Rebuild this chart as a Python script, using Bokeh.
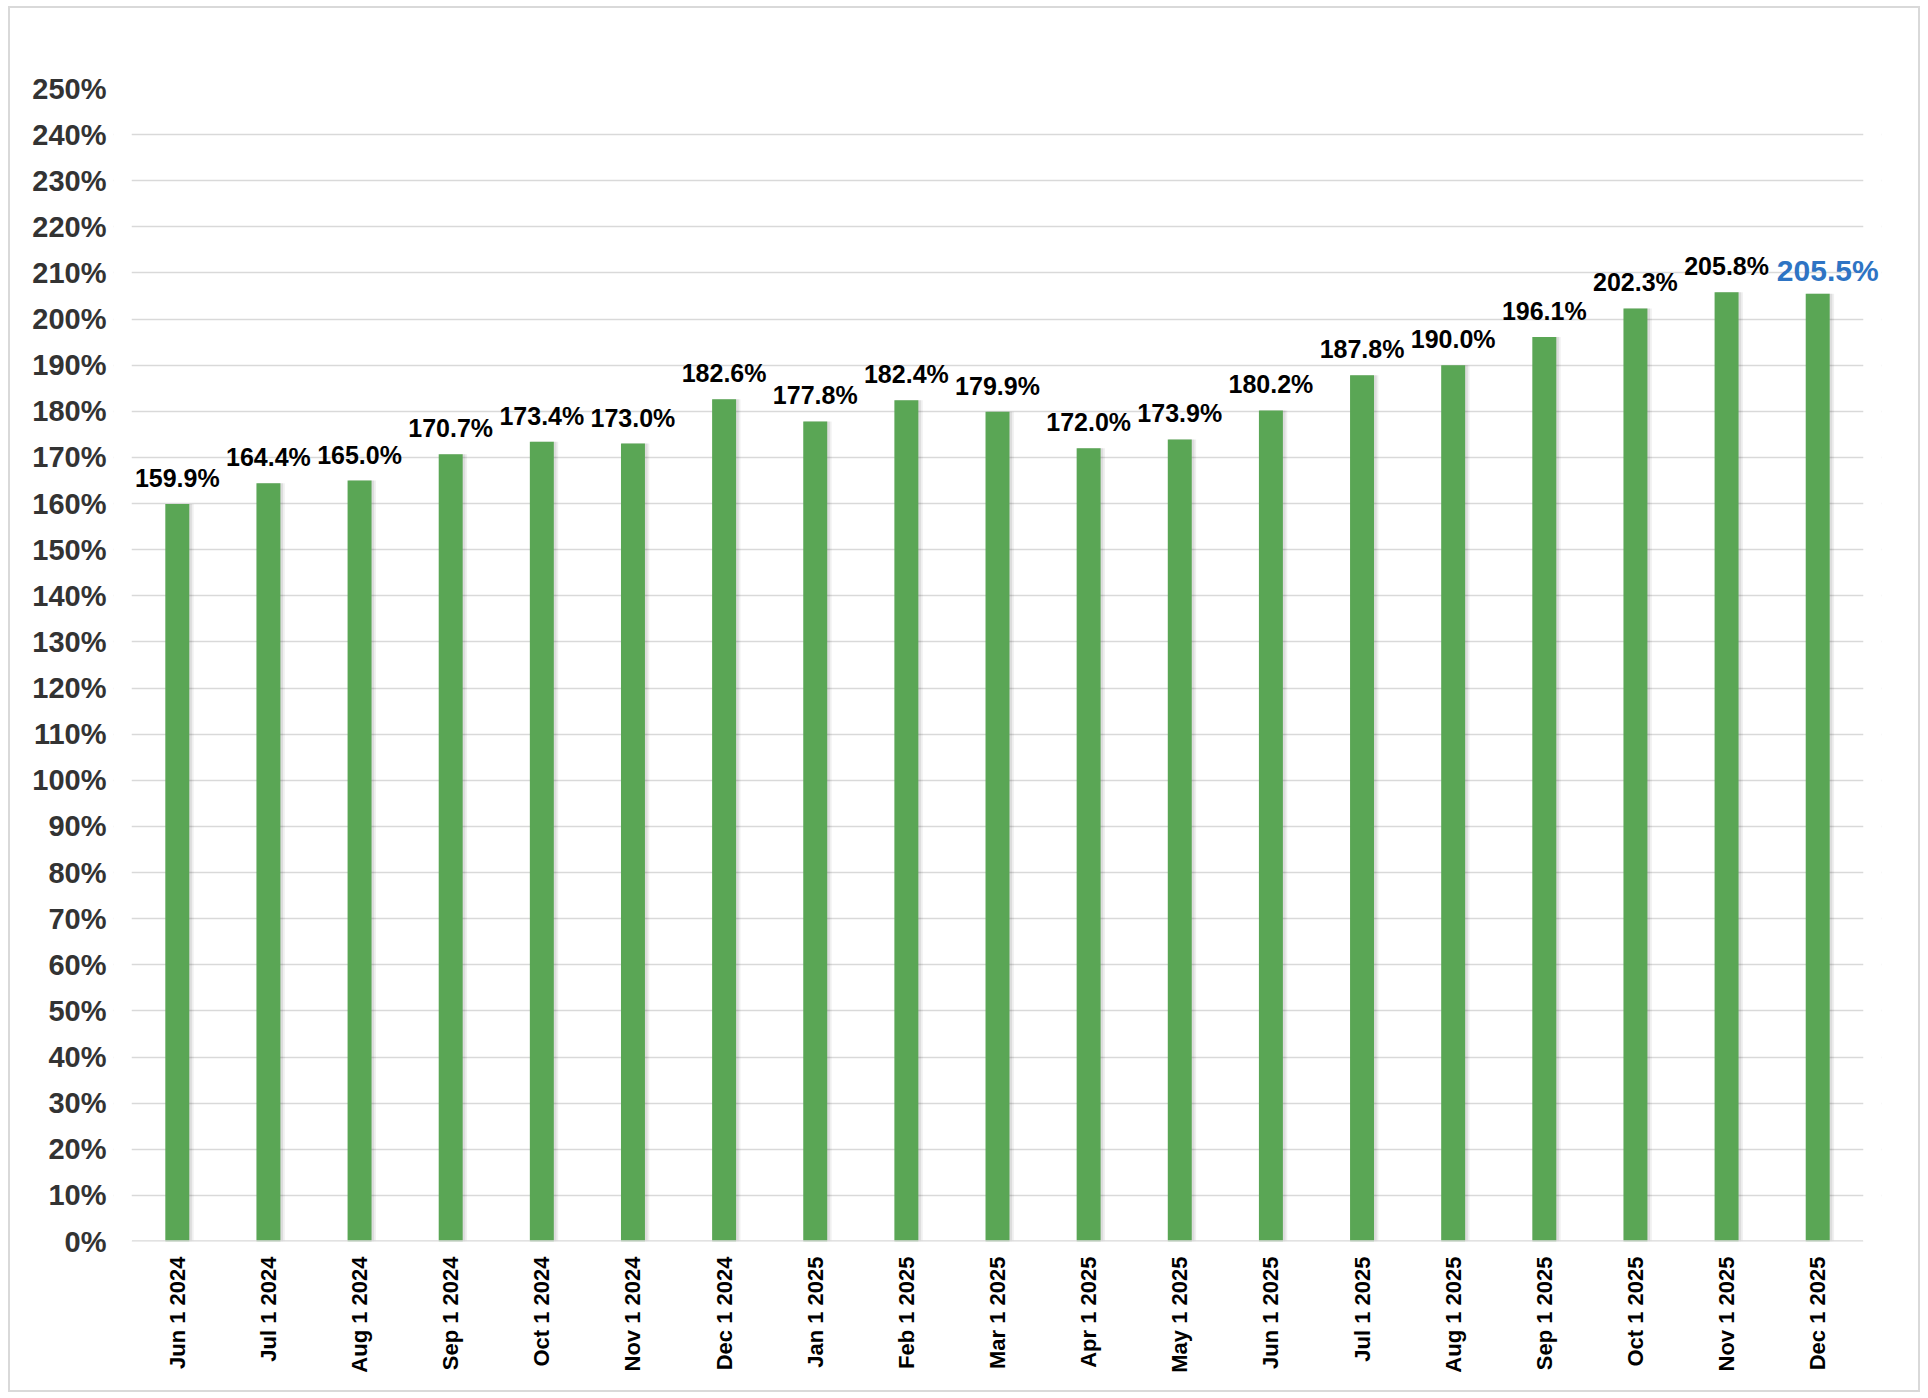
import math
from bokeh.plotting import figure
from bokeh.models import (ColumnDataSource, FixedTicker, PrintfTickFormatter,
                          LabelSet, BoxAnnotation, FactorRange)
from bokeh.core.properties import value
from bokeh.transform import dodge
from bokeh.embed import file_html
from bokeh.resources import INLINE

months = ["Jun 1 2024", "Jul 1 2024", "Aug 1 2024", "Sep 1 2024", "Oct 1 2024",
          "Nov 1 2024", "Dec 1 2024", "Jan 1 2025", "Feb 1 2025", "Mar 1 2025",
          "Apr 1 2025", "May 1 2025", "Jun 1 2025", "Jul 1 2025", "Aug 1 2025",
          "Sep 1 2025", "Oct 1 2025", "Nov 1 2025", "Dec 1 2025"]
values = [159.9, 164.4, 165.0, 170.7, 173.4, 173.0, 182.6, 177.8, 182.4, 179.9,
          172.0, 173.9, 180.2, 187.8, 190.0, 196.1, 202.3, 205.8, 205.5]
y_ticks = list(range(0, 251, 10))

FONT = "Liberation Sans"

src = ColumnDataSource(dict(x=months, y=values))
main_src = ColumnDataSource(dict(x=months[:-1], y=values[:-1],
                                 label=[f"{v:.1f}%" for v in values[:-1]]))
last_src = ColumnDataSource(dict(x=months[-1:], y=values[-1:],
                                 label=[f"{values[-1]:.1f}%"]))

# a little room at both ends so the last label is not clipped
x_range = FactorRange(factors=months, range_padding=0.2,
                      range_padding_units="absolute")

p = figure(x_range=x_range, y_range=(0, 250), width=1912, height=1386,
           output_backend="svg", toolbar_location=None,
           min_border_left=103, min_border_right=41,
           min_border_top=80, min_border_bottom=153)
p.styles = {"border": "2px solid #D9D9D9", "box-sizing": "border-box",
            "margin-left": "8px", "margin-top": "6px"}
p.outline_line_color = None
p.background_fill_color = "white"
p.border_fill_color = "white"

# soft shadow
p.vbar(x=dodge("x", 0.03, range=p.x_range), top="y", width=0.30, source=src,
       fill_color="#000000", fill_alpha=0.06, line_color=None)
p.vbar(x=dodge("x", 0.02, range=p.x_range), top="y", width=0.28, source=src,
       fill_color="#000000", fill_alpha=0.08, line_color=None)
p.vbar(x="x", top="y", width=0.263, source=src,
       fill_color="#5AA655", line_color=None)

# hide gridlines in the padding so they span the categories only
p.add_layout(BoxAnnotation(right=0, fill_color="white", fill_alpha=1,
                           line_color=None))
p.add_layout(BoxAnnotation(left=len(months), fill_color="white", fill_alpha=1,
                           line_color=None))
# baseline (category axis line)
p.segment(x0=[0], y0=[0], x1=[len(months)], y1=[0],
          line_color="#D9D9D9", line_width=2.5)

p.add_layout(LabelSet(x="x", y="y", text="label", source=main_src,
                      text_font=value(FONT), text_font_style="bold",
                      text_font_size="25px", text_color="#000000",
                      text_align="center", text_baseline="alphabetic",
                      y_offset=17))
p.add_layout(LabelSet(x="x", y="y", text="label", source=last_src,
                      text_font=value(FONT), text_font_style="bold",
                      text_font_size="30px", text_color="#2E74C4",
                      text_align="center", text_baseline="alphabetic",
                      x_offset=10, y_offset=13))

p.xgrid.grid_line_color = None
p.ygrid.grid_line_color = "#D9D9D9"
p.ygrid.grid_line_width = 1.5
p.yaxis.ticker = FixedTicker(ticks=y_ticks)
p.yaxis.formatter = PrintfTickFormatter(format="%d%%")
p.yaxis.axis_line_color = None
p.yaxis.major_tick_line_color = None
p.yaxis.minor_tick_line_color = None
p.yaxis.major_tick_out = 0
p.yaxis.major_label_standoff = 7
p.yaxis.major_label_text_font = FONT
p.yaxis.major_label_text_font_style = "bold"
p.yaxis.major_label_text_font_size = "29px"
p.yaxis.major_label_text_color = "#333333"

p.xaxis.axis_line_color = None
p.xaxis.major_tick_line_color = None
p.xaxis.minor_tick_line_color = None
p.xaxis.major_tick_out = 0
p.xaxis.major_label_standoff = 15
p.xaxis.major_label_orientation = math.pi / 2
p.xaxis.major_label_text_font = FONT
p.xaxis.major_label_text_font_style = "bold"
p.xaxis.major_label_text_font_size = "22px"
p.xaxis.major_label_text_color = "#000000"

open("out.html", "w").write(file_html(p, INLINE))
